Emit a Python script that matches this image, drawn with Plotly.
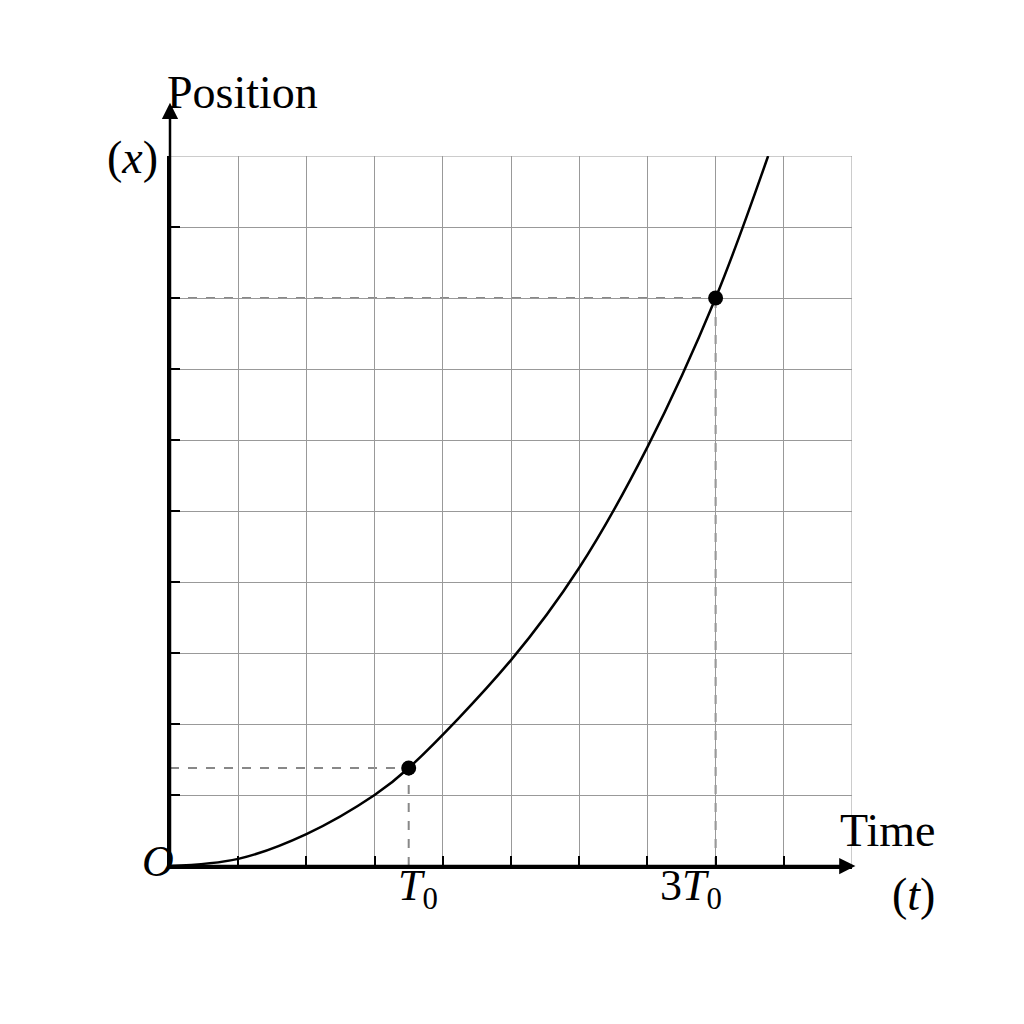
import plotly.graph_objects as go

t_vals = [0, 1, 2, 3, 3.5, 5, 6, 7, 8, 8.77]
x_vals = [0, 0.1, 0.45, 1.0, 1.38, 2.9, 4.2, 5.9, 8.0, 10.0]
pts_t = [3.5, 8.0]
pts_x = [1.38, 8.0]
pt_labels = ["<i>T</i><sub>0</sub>", "3<i>T</i><sub>0</sub>"]

F = "Liberation Serif"
fig = go.Figure()
fig.add_trace(go.Scatter(x=t_vals, y=x_vals, mode="lines", line=dict(color="black", width=2.5, shape="spline", smoothing=1.0)))
fig.add_trace(go.Scatter(x=pts_t, y=pts_x, mode="markers", marker=dict(color="black", size=15)))

shapes = [dict(type="rect", x0=0, y0=0, x1=10, y1=10, line=dict(color="#999", width=1), layer="below")]
for a, b in zip(pts_t, pts_x):
    shapes.append(dict(type="line", x0=0, y0=b, x1=a, y1=b, line=dict(color="#888", width=2, dash="dash"), layer="below"))
    shapes.append(dict(type="line", x0=a, y0=0, x1=a, y1=b, line=dict(color="#888", width=2, dash="dash"), layer="below"))

def txt(x, y, s, size=46):
    return dict(x=x, y=y, xref="paper", yref="paper", text=s, showarrow=False, font=dict(family=F, size=size, color="black"))

ann = [
    dict(x=10.05, y=0, ax=0, ay=0, axref="x", ayref="y", showarrow=True, arrowhead=2, arrowsize=1.3, arrowwidth=2.5, arrowcolor="black", text=""),
    dict(x=0, y=10.75, ax=0, ay=0, axref="x", ayref="y", showarrow=True, arrowhead=2, arrowsize=1.3, arrowwidth=2.5, arrowcolor="black", text=""),
    txt(-0.007, 1.128, "Position"),
    txt(-0.095, 1.037, "(<i>x</i>)"),
    txt(1.125, 0.011, "Time"),
    txt(1.125, -0.079, "(<i>t</i>)"),
    txt(-0.044, -0.031, "<i>O</i>", 44),
]
for a, lab in zip(pts_t, pt_labels):
    ann.append(txt((a + 0.13) / 10, -0.073, lab, 44))

ax_common = dict(range=[0, 10], dtick=1, tick0=0, showgrid=True, gridcolor="#999", gridwidth=1,
                 zeroline=False, showline=True, linecolor="black", linewidth=2.5,
                 ticks="inside", ticklen=10, tickwidth=2, tickcolor="black", showticklabels=False)
fig.update_layout(
    width=1024, height=1024, showlegend=False,
    margin=dict(l=162, r=180, t=148, b=166),
    plot_bgcolor="white", paper_bgcolor="white",
    xaxis=ax_common, yaxis=ax_common,
    shapes=shapes, annotations=ann,
)
fig.write_html("out.html")
